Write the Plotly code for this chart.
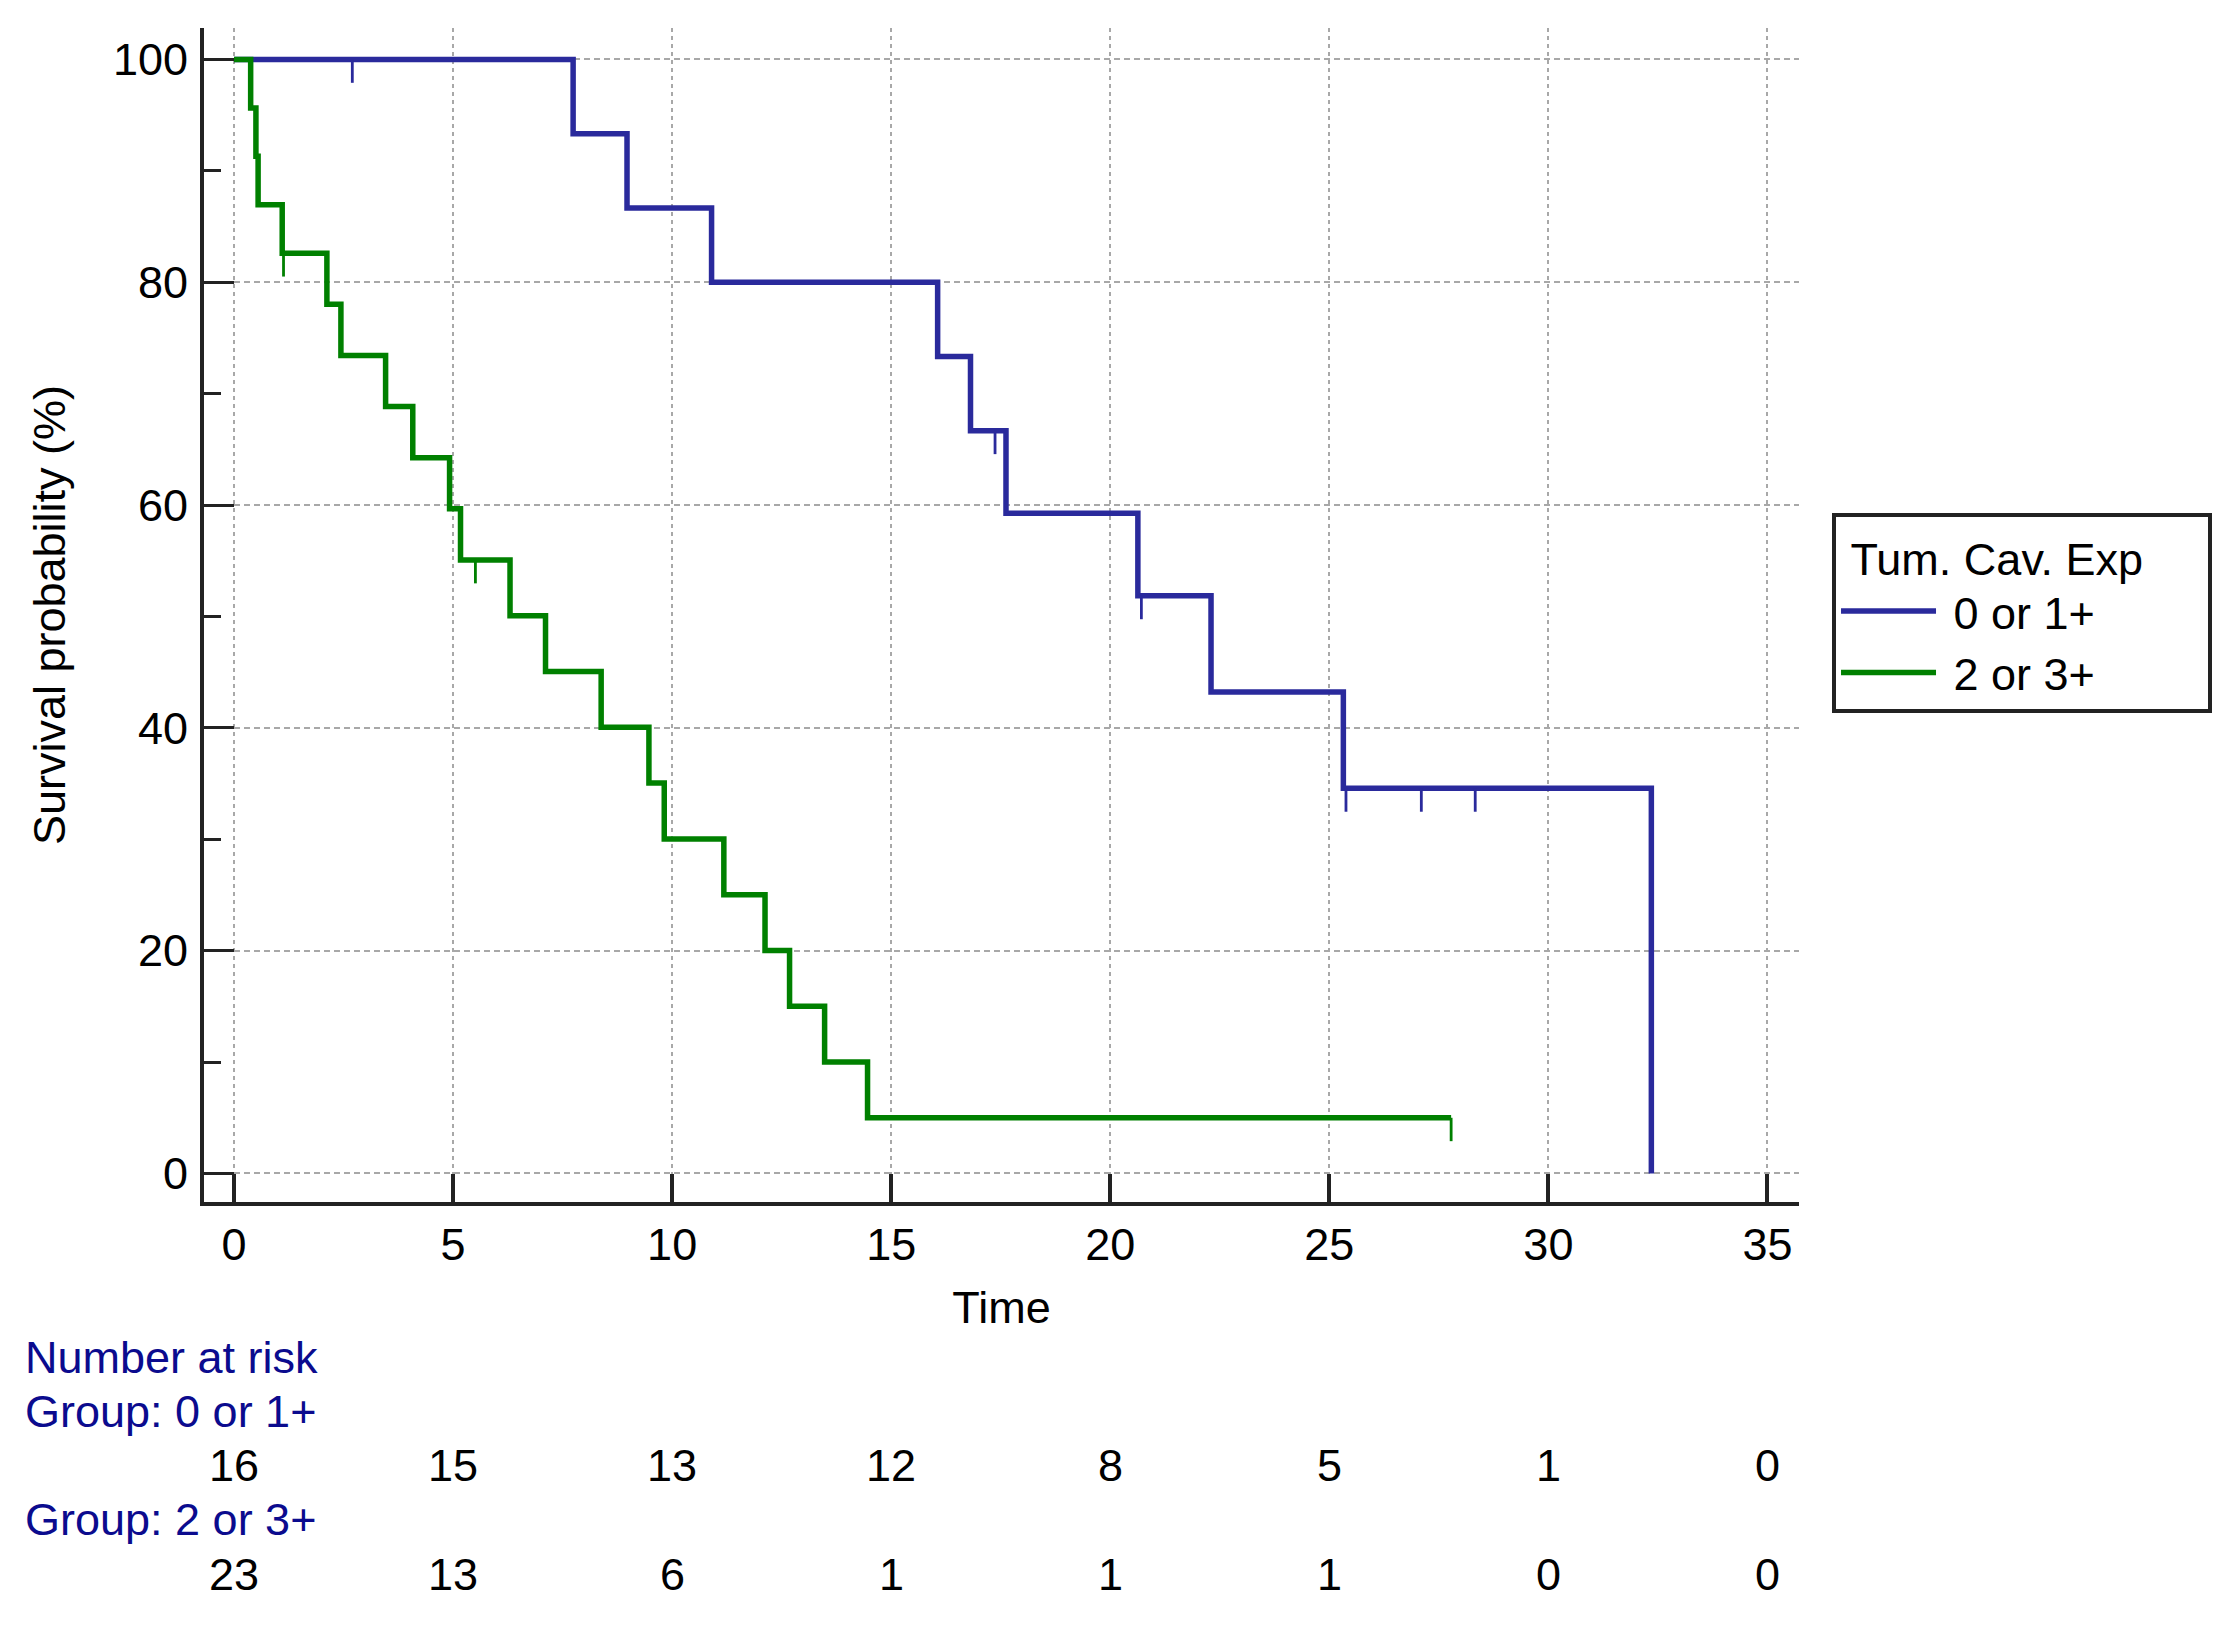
import plotly.graph_objects as go

# ---------------- data ----------------
# Group "0 or 1+"
blue_times = [0, 7.74, 8.97, 10.9, 16.06, 16.81, 17.62, 20.63, 22.3, 25.32, 32.35]
blue_surv = [100, 93.33, 86.67, 80.0, 73.33, 66.67, 59.26, 51.85, 43.21, 34.57, 0]
blue_censor = [2.7, 17.37, 20.71, 25.38, 27.1, 28.33]

# Group "2 or 3+"
green_times = [0, 0.38, 0.5, 0.55, 1.1, 2.12, 2.44, 3.46, 4.08, 4.92, 5.17,
               6.3, 7.11, 8.38, 9.47, 9.82, 11.18, 12.12, 12.68, 13.48, 14.46]
green_surv = [100, 95.65, 91.30, 86.96, 82.61, 78.02, 73.43, 68.84, 64.25, 59.66, 55.07,
              50.06, 45.06, 40.05, 35.04, 30.03, 25.03, 20.02, 15.02, 10.01, 5.0]
green_censor = [1.13, 5.51, 27.78]
green_end = 27.78

group_names = ["0 or 1+", "2 or 3+"]
legend_title = "Tum. Cav. Exp"

risk_times = [0, 5, 10, 15, 20, 25, 30, 35]
risk_blue = [16, 15, 13, 12, 8, 5, 1, 0]
risk_green = [23, 13, 6, 1, 1, 1, 0, 0]

x_ticks = [0, 5, 10, 15, 20, 25, 30, 35]
y_ticks = [0, 20, 40, 60, 80, 100]

# ---------------- styles ----------------
BLUE = "#2A2A9C"
GREEN = "#008000"
NAVY = "#0B0B8E"
AX = "#222222"
FONT = "Liberation Sans, Arial, sans-serif"
FS = 45
TICK_DROP = 2.1  # censor mark length (in % units)
NB = "\u00a0"    # padding inside the legend box


def surv_at(times, surv, t):
    s = surv[0]
    for ti, si in zip(times, surv):
        if ti <= t:
            s = si
    return s


def censor_segments(times, surv, cens):
    xs, ys = [], []
    for c in cens:
        s = surv_at(times, surv, c)
        xs += [c, c, None]
        ys += [s, s - TICK_DROP, None]
    return xs, ys


fig = go.Figure()

fig.add_trace(go.Scatter(x=blue_times, y=blue_surv, mode="lines", line_shape="hv",
                         line=dict(color=BLUE, width=5.5), name=NB + group_names[0]))
fig.add_trace(go.Scatter(x=green_times + [green_end], y=green_surv + [green_surv[-1]],
                         mode="lines", line_shape="hv",
                         line=dict(color=GREEN, width=5.5), name=NB + group_names[1]))

bx, by = censor_segments(blue_times, blue_surv, blue_censor)
gx, gy = censor_segments(green_times, green_surv, green_censor)
fig.add_trace(go.Scatter(x=bx, y=by, mode="lines", line=dict(color=BLUE, width=2.8),
                         showlegend=False, hoverinfo="skip"))
fig.add_trace(go.Scatter(x=gx, y=gy, mode="lines", line=dict(color=GREEN, width=2.8),
                         showlegend=False, hoverinfo="skip"))

# ---------------- number at risk table ----------------
rows = [("Number at risk", None, -0.1327),
        ("Group: " + group_names[0], None, -0.1787),
        (None, risk_blue, -0.2247),
        ("Group: " + group_names[1], None, -0.2707),
        (None, risk_green, -0.3176)]
annotations = []
for label, vals, yp in rows:
    if label is not None:
        annotations.append(dict(text=label, xref="paper", yref="paper", x=-0.1135, y=yp,
                                xanchor="left", yanchor="middle", showarrow=False,
                                font=dict(family=FONT, size=FS, color=NAVY)))
    else:
        for t, v in zip(risk_times, vals):
            annotations.append(dict(text=str(v), xref="x", yref="paper", x=t, y=yp,
                                    xanchor="center", yanchor="middle", showarrow=False,
                                    font=dict(family=FONT, size=FS, color="black")))

fig.update_layout(
    width=2235, height=1637, autosize=False,
    margin=dict(l=204, r=436, t=28, b=435),
    paper_bgcolor="white", plot_bgcolor="white",
    font=dict(family=FONT, size=FS, color="black"),
    annotations=annotations,
    legend=dict(
        title=dict(text=NB + legend_title + NB * 5,
                   font=dict(family=FONT, size=FS, color="black")),
        x=1.0207, y=0.587, xanchor="left", yanchor="top",
        bordercolor=AX, borderwidth=4, bgcolor="white",
        font=dict(family=FONT, size=FS, color="black"),
        tracegroupgap=0, itemwidth=95,
    ),
    xaxis=dict(
        range=[-0.685, 35.72], tickvals=x_ticks, ticktext=[str(v) for v in x_ticks],
        ticks="inside", ticklen=28, tickwidth=4, tickcolor=AX,
        showline=True, linewidth=4, linecolor=AX, mirror=False,
        showgrid=True, gridcolor="#A8A8A8", gridwidth=2, griddash="4px,4px",
        zeroline=False, ticklabelstandoff=0,
        title=dict(text="Time", standoff=23, font=dict(family=FONT, size=FS)),
        tickfont=dict(family=FONT, size=FS, color="black"),
    ),
    yaxis=dict(
        range=[-2.56, 102.82], tickvals=y_ticks, ticktext=[str(v) for v in y_ticks],
        ticks="inside", ticklen=30, tickwidth=3, tickcolor=AX,
        minor=dict(dtick=10, tick0=0, ticks="inside", ticklen=17, tickwidth=3,
                   tickcolor=AX, showgrid=False),
        showline=True, linewidth=4, linecolor=AX, mirror=False,
        showgrid=True, gridcolor="#A8A8A8", gridwidth=2, griddash="6px,4px",
        zeroline=False, ticklabelstandoff=3,
        title=dict(text="Survival probability (%)", standoff=34, font=dict(family=FONT, size=FS)),
        tickfont=dict(family=FONT, size=FS, color="black"),
    ),
)

fig.write_html("out.html", config={"displayModeBar": False},
               post_script="document.body.style.margin='0';document.body.style.overflow='hidden';")
